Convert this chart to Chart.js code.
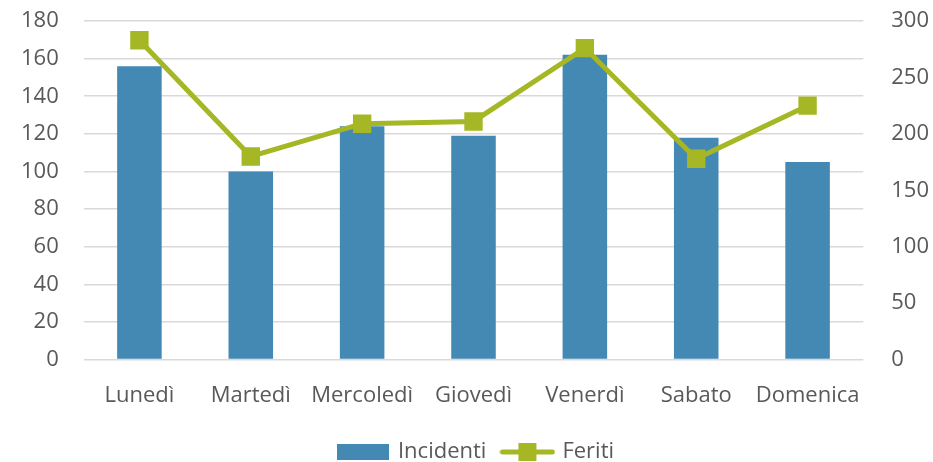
<!DOCTYPE html>
<html>
<head>
<meta charset="utf-8">
<script src="https://cdn.jsdelivr.net/npm/chart.js@4"></script>
<style>
    html, body { margin: 0; padding: 0; background: #fff; }
    #wrap { width: 933px; height: 462px; }
</style>
</head>
<body>
<div id="wrap"><canvas id="chart"></canvas></div>
<script>
var giorni = ["Lunedì", "Martedì", "Mercoledì", "Giovedì", "Venerdì", "Sabato", "Domenica"];
var incidenti = [156, 100, 124, 119, 162, 118, 105];
var feriti = [283, 180, 209, 211, 276, 178, 225];

var blu = "#4389b4";
var verde = "#a5b724";

// little pictures for the legend
function legendBox() {
    var c = document.createElement("canvas");
    c.width = 52; c.height = 16;
    var ctx = c.getContext("2d");
    ctx.fillStyle = blu;
    ctx.fillRect(0, 0, 52, 16);
    return c;
}
function legendLine() {
    var c = document.createElement("canvas");
    c.width = 56; c.height = 20;
    var ctx = c.getContext("2d");
    ctx.strokeStyle = verde;
    ctx.lineWidth = 5;
    ctx.lineCap = "round";
    ctx.beginPath();
    ctx.moveTo(3, 10); ctx.lineTo(53, 10);
    ctx.stroke();
    ctx.fillStyle = verde;
    ctx.fillRect(19, 1, 18, 18);
    return c;
}

// tick padding should only push labels sideways, not down from the top
function trimPadding(scale) {
    scale.paddingTop = 21;
    scale.paddingBottom = 13;
}

Chart.defaults.font.family = "'Open Sans', sans-serif";
Chart.defaults.font.size = 22;
Chart.defaults.color = "#595959";

var chart = new Chart(document.getElementById("chart"), {
    type: "bar",
    data: {
        labels: giorni,
        datasets: [
            {
                type: "line",
                label: "Feriti",
                data: feriti,
                yAxisID: "y2",
                borderColor: verde,
                backgroundColor: verde,
                borderWidth: 5,
                pointStyle: "rect",
                pointRadius: 13,
                pointHoverRadius: 13,
                pointBorderWidth: 0,
                tension: 0,
                order: 0
            },
            {
                label: "Incidenti",
                data: incidenti,
                yAxisID: "y",
                backgroundColor: blu,
                barPercentage: 0.4,
                categoryPercentage: 1,
                order: 1
            }
        ]
    },
    options: {
        responsive: true,
        maintainAspectRatio: false,
        animation: false,
        layout: { autoPadding: false, padding: { top: 0, right: -24, left: -4, bottom: -11 } },
        scales: {
            x: {
                grid: { display: false },
                border: { display: false },
                ticks: { padding: 15, maxRotation: 0, autoSkip: false }
            },
            y: {
                position: "left",
                min: 0, max: 180,
                ticks: { stepSize: 20, padding: 25 },
                grid: { color: "#d9d9d9", lineWidth: 1.5, drawTicks: false },
                border: { display: false },
                afterFit: trimPadding
            },
            y2: {
                position: "right",
                min: 0, max: 300,
                ticks: { stepSize: 50, padding: 28 },
                grid: { display: false, drawTicks: false },
                border: { display: false },
                afterFit: trimPadding
            }
        },
        plugins: {
            tooltip: { enabled: false },
            legend: {
                position: "bottom",
                reverse: true,
                labels: {
                    usePointStyle: true,
                    pointStyleWidth: 48,
                    padding: 17,
                    generateLabels: function (ch) {
                        return ch.data.datasets.map(function (ds, i) {
                            return {
                                text: ds.label,
                                pointStyle: ds.type === "line" ? legendLine() : legendBox(),
                                fontColor: "#595959",
                                datasetIndex: i,
                                hidden: false,
                                lineWidth: 0
                            };
                        });
                    }
                }
            }
        }
    }
});
</script>
</body>
</html>
